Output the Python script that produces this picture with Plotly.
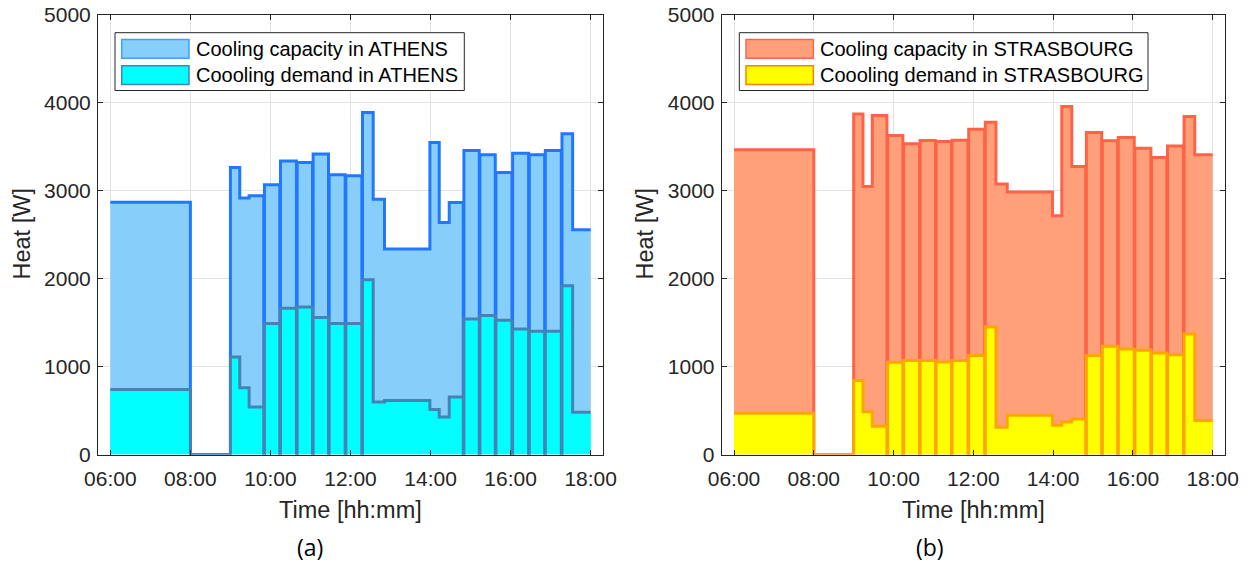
import plotly.graph_objects as go

# ---------------- data ----------------
time_marks = ["06:00", "08:00", "09:00", "09:14", "09:28", "09:50", "09:51", "10:14", "10:15",
              "10:39", "10:40", "11:03", "11:04", "11:27", "11:28", "11:52", "11:53", "12:17",
              "12:18", "12:34", "12:51", "13:59", "14:13", "14:28", "14:49", "14:50", "15:13",
              "15:14", "15:37", "15:38", "16:02", "16:03", "16:27", "16:28", "16:51", "16:52",
              "17:16", "17:17", "17:33", "18:00"]

athens_capacity = [2870, 0, 3265, 2917, 2943, 0, 3068, 0, 3340, 0, 3322, 0, 3420, 0, 3182, 0,
                   3170, 0, 3890, 2905, 2337, 3549, 2640, 2867, 0, 3458, 0, 3409, 0, 3208, 0,
                   3428, 0, 3409, 0, 3458, 0, 3648, 2557, 2557]
athens_demand = [740, 0, 1110, 760, 540, 0, 1489, 0, 1663, 0, 1678, 0, 1560, 0, 1489, 0,
                 1489, 0, 1989, 598, 613, 511, 428, 655, 0, 1542, 0, 1580, 0, 1527, 0,
                 1428, 0, 1402, 0, 1402, 0, 1920, 481, 481]
strasbourg_capacity = [3466, 0, 3875, 3049, 3856, 0, 3629, 0, 3534, 0, 3572, 0, 3561, 0, 3575, 0,
                       3701, 0, 3780, 3076, 2985, 2716, 3958, 3277, 0, 3663, 0, 3568, 0, 3606, 0,
                       3485, 0, 3379, 0, 3511, 0, 3845, 3409, 3409]
strasbourg_demand = [470, 0, 841, 485, 322, 0, 1049, 0, 1068, 0, 1068, 0, 1053, 0, 1068, 0,
                     1125, 0, 1451, 311, 447, 333, 371, 405, 0, 1125, 0, 1231, 0, 1201, 0,
                     1186, 0, 1155, 0, 1136, 0, 1371, 386, 386]

x_tick_labels = ["06:00", "08:00", "10:00", "12:00", "14:00", "16:00", "18:00"]
y_tick_values = [0, 1000, 2000, 3000, 4000, 5000]
legend_athens = ["Cooling capacity in ATHENS", "Coooling demand in ATHENS"]
legend_strasbourg = ["Cooling capacity in STRASBOURG", "Coooling demand in STRASBOURG"]
panel_labels = ["(a)", "(b)"]
x_title = "Time [hh:mm]"
y_title = "Heat [W]"

# ---------------- styling ----------------
W, H = 1248, 563
DAY = "2021-07-15 "
FONT = "Liberation Sans, Arial, sans-serif"
AX = "#262626"
GRID = "#E2E2E2"

ATH_CAP_FILL, ATH_CAP_LINE = "#87CEFA", "#2178FF"
ATH_DEM_FILL, ATH_DEM_LINE = "#00FFFF", "#4682B4"
STR_CAP_FILL, STR_CAP_LINE = "#FFA07A", "#FF6347"
STR_DEM_FILL, STR_DEM_LINE = "#FFFF00", "#FFA500"

x = [DAY + t for t in time_marks]


def px(p):
    return p / W


def py(p):
    return 1 - p / H


fig = go.Figure()


def add_pair(cap, dem, cap_fill, cap_line, dem_fill, dem_line, xa, ya, names):
    fig.add_trace(go.Scatter(x=x, y=cap, mode="lines", line=dict(shape="hv", color=cap_line, width=3),
                             fill="tozeroy", fillcolor=cap_fill, name=names[0], showlegend=False,
                             xaxis=xa, yaxis=ya, hoverinfo="skip"))
    fig.add_trace(go.Scatter(x=x, y=dem, mode="lines", line=dict(shape="hv", color=dem_line, width=3),
                             fill="tozeroy", fillcolor=dem_fill, name=names[1], showlegend=False,
                             xaxis=xa, yaxis=ya, hoverinfo="skip"))


add_pair(athens_capacity, athens_demand, ATH_CAP_FILL, ATH_CAP_LINE, ATH_DEM_FILL, ATH_DEM_LINE,
         "x", "y", legend_athens)
add_pair(strasbourg_capacity, strasbourg_demand, STR_CAP_FILL, STR_CAP_LINE, STR_DEM_FILL, STR_DEM_LINE,
         "x2", "y2", legend_strasbourg)

plot_top, plot_bottom = 15, 454.5
ydom = [py(plot_bottom), py(plot_top)]

common_x = dict(type="date", range=[DAY + "05:41:30", DAY + "18:18:30"],
                tickvals=[DAY + t for t in x_tick_labels], ticktext=x_tick_labels,
                ticks="inside", ticklen=5, tickcolor=AX, showline=True, linecolor=AX, linewidth=1,
                mirror="ticks", showgrid=True, gridcolor=GRID, gridwidth=1, zeroline=False,
                tickfont=dict(family=FONT, size=21, color=AX), ticklabelstandoff=5,
                automargin=False, fixedrange=True)
common_y = dict(range=[0, 5000], tickvals=y_tick_values, ticks="inside", ticklen=5, tickcolor=AX,
                showline=True, linecolor=AX, linewidth=1, mirror="ticks", showgrid=True,
                gridcolor=GRID, gridwidth=1, zeroline=False,
                tickfont=dict(family=FONT, size=21, color=AX), ticklabelstandoff=2,
                automargin=False, fixedrange=True)

left_dom = [px(98), px(603)]
right_dom = [px(721.7), px(1225)]

fig.update_layout(
    template="none",
    width=W, height=H, margin=dict(l=0, r=0, t=0, b=0, pad=0, autoexpand=False),
    paper_bgcolor="white", plot_bgcolor="white", showlegend=False,
    xaxis=dict(domain=left_dom, anchor="y", **common_x),
    yaxis=dict(domain=ydom, anchor="x", **common_y),
    xaxis2=dict(domain=right_dom, anchor="y2", **common_x),
    yaxis2=dict(domain=ydom, anchor="x2", **common_y),
)

annotations = []
shapes = []

# axis titles and panel labels
for (x0, x1), ycx, lab_x, lab in [((98, 603), 21, 309.5, panel_labels[0]),
                                  ((721.7, 1225), 644, 929.5, panel_labels[1])]:
    annotations.append(dict(text=x_title, x=px((x0 + x1) / 2), y=py(510), xref="paper", yref="paper",
                            xanchor="center", yanchor="middle", showarrow=False,
                            font=dict(family=FONT, size=23.5, color=AX)))
    annotations.append(dict(text=y_title, x=px(ycx), y=py(234.5), xref="paper", yref="paper",
                            xanchor="center", yanchor="middle", showarrow=False, textangle=-90,
                            font=dict(family=FONT, size=23.5, color=AX)))
    annotations.append(dict(text=lab, x=px(lab_x), y=py(547), xref="paper", yref="paper",
                            xanchor="center", yanchor="middle", showarrow=False,
                            font=dict(family="Open Sans, sans-serif", size=23, color="black")))

# legends (drawn as boxes + swatches + text)
legend_specs = [
    (115, 464.3, legend_athens, [(ATH_CAP_FILL, "#4A9BFF"), (ATH_DEM_FILL, ATH_DEM_LINE)]),
    (739.3, 1148, legend_strasbourg, [(STR_CAP_FILL, STR_CAP_LINE), (STR_DEM_FILL, "#FF7F00")]),
]
for bx0, bx1, texts, cols in legend_specs:
    shapes.append(dict(type="rect", xref="paper", yref="paper", x0=px(bx0), x1=px(bx1),
                       y0=py(90.5), y1=py(32.7), line=dict(color=AX, width=1), fillcolor="white",
                       layer="above"))
    for i, (txt, (fc, lc)) in enumerate(zip(texts, cols)):
        top = 39.5 + i * 26.3
        shapes.append(dict(type="rect", xref="paper", yref="paper", x0=px(bx0 + 6.7), x1=px(bx0 + 74),
                           y0=py(top + 18.8), y1=py(top), line=dict(color=lc, width=1.5), fillcolor=fc,
                           layer="above"))
        annotations.append(dict(text=txt, x=px(bx0 + 78.5), y=py(top + 9.6), xref="paper", yref="paper",
                                xanchor="left", yanchor="middle", showarrow=False,
                                font=dict(family=FONT, size=20, color="black")))

fig.update_layout(annotations=annotations, shapes=shapes)

fig.write_html("out.html")
